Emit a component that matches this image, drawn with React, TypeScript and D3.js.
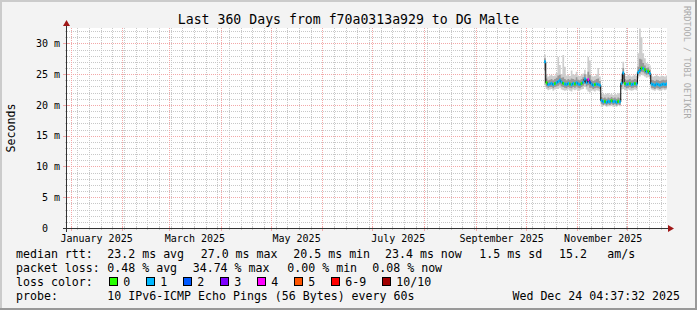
import React from 'react';
import * as d3 from 'd3';

const FONT = '"DejaVu Sans Mono", monospace';
const W = 697, H = 310;
const PL = 67, PR = 667, PT = 28, PB = 228;

// ---- time frame ----
const timeStart = new Date(Date.UTC(2024, 11, 29, 18));
const timeEnd = new Date(Date.UTC(2025, 11, 24, 18));
const firstSample = new Date(Date.UTC(2025, 9, 12));
const yMax = 32.5;

// ---- data (ms) ----
const medianRtt = [27.0,23.6,23.3,23.4,23.5,23.3,23.5,23.6,23.8,24.0, 23.7,23.5,23.4,23.3,23.5,23.4,23.3,23.5,23.4,23.6, 23.4,23.3,23.5,23.7,24.2,23.6,24.1,23.7,23.4,23.2, 23.3,23.4,23.3,23.2,20.7,20.5,20.6,20.4,20.6,20.5, 20.7,20.5,20.6,20.4,20.6,20.5,23.5,25.2,23.5,23.3, 23.4,23.5,23.3,23.4,23.5,23.4,25.3,25.6,26.0,25.9, 25.7,25.4,25.5,25.1,23.4,23.3,23.2,23.4,23.3,23.2, 23.3,23.4,23.3,23.4];
const smokeInnerLow = [25.6,23.0,22.8,22.9,22.9,22.7,22.9,23.0,23.1,23.3, 23.0,22.9,22.8,22.7,22.9,22.8,22.7,22.9,22.8,23.0, 22.8,22.7,22.9,23.1,23.4,23.0,23.2,22.8,22.8,22.6, 22.7,22.8,22.7,22.6,20.2,20.0,20.1,19.9,20.1,20.0, 20.2,20.0,20.1,19.9,20.1,20.0,22.9,24.2,22.9,22.7, 22.8,22.9,22.7,22.8,22.9,22.8,24.8,25.1,25.4,25.3, 25.1,24.9,25.0,24.6,22.8,22.7,22.6,22.8,22.7,22.6, 22.7,22.8,22.7,22.8];
const smokeInnerHigh = [27.6,24.3,24.0,24.1,24.2,24.0,24.2,24.4,24.8,24.9, 24.4,24.5,24.2,24.0,24.2,24.1,24.3,24.2,24.1,24.5, 24.1,24.0,24.2,24.5,25.0,24.3,25.4,24.9,24.1,23.9, 24.0,24.2,24.3,23.9,21.3,21.1,21.2,21.0,21.2,21.1, 21.3,21.1,21.2,21.0,21.2,21.1,24.2,26.0,24.2,24.0, 24.1,24.2,24.0,24.1,24.2,24.1,26.2,27.5,27.4,26.8, 26.4,26.0,26.1,25.7,24.1,24.0,23.9,24.1,24.0,23.9, 24.0,24.1,24.0,24.1];
const smokeMin = [23.2,22.6,22.4,22.5,22.6,22.3,22.5,22.6,22.6,22.8, 22.5,22.4,22.3,22.4,22.5,22.3,22.2,22.5,22.4,22.5, 22.3,22.4,22.5,22.6,22.9,22.5,22.2,22.0,22.4,22.3, 22.2,22.4,22.3,22.2,19.7,19.8,19.9,19.7,19.8,19.8, 19.9,19.7,19.8,19.7,19.9,19.8,22.5,22.6,22.4,22.3, 22.5,22.4,22.3,22.4,22.5,22.4,24.3,24.6,24.9,24.8, 24.6,24.4,24.5,24.2,22.5,22.4,22.3,22.5,22.4,22.3, 22.4,22.5,22.4,22.5];
const smokeMax = [28.2,25.0,24.6,24.8,24.9,24.7,24.8,25.2,27.8,26.5, 25.0,28.1,26.2,24.8,25.0,24.7,25.6,25.0,24.9,25.4, 24.8,24.7,24.9,25.1,25.7,25.0,27.8,27.2,24.8,24.6, 24.7,25.0,26.0,24.6,21.9,21.8,21.7,21.8,21.9,21.7, 21.8,21.6,21.8,21.7,21.9,21.8,24.9,27.0,24.8,24.7, 24.9,24.8,24.6,24.8,24.9,24.7,28.4,32.4,31.0,28.4, 27.6,26.8,26.7,26.4,24.8,24.6,24.7,24.9,24.7,24.6, 24.8,24.7,24.6,24.8];
const lossClass = [1,0,1,1,1,1,0,1,1,1, 1,0,1,1,1,0,1,1,0,1, 1,1,0,1,1,1,4,2,1,1, 0,1,1,1,1,1,0,1,1,1, 0,1,1,1,0,1,1,1,0,1, 1,0,1,1,0,1,1,1,0,1, 0,1,0,1,1,1,1,1,1,1, 1,1,1,1];

// ---- labels ----
const titleText = 'Last 360 Days from f70a0313a929 to DG Malte';
const yAxisTitle = 'Seconds';
const watermark = 'RRDTOOL / TOBI OETIKER';
const yTicks = [0, 5, 10, 15, 20, 25, 30];
const xLabelTexts = ['January 2025', 'March 2025', 'May 2025', 'July 2025', 'September 2025', 'November 2025'];
const xLabelMonths = [0, 2, 4, 6, 8, 10];
const lossLabels = ['0', '1', '2', '3', '4', '5', '6-9', '10/10'];
const lossColors = ['#26ff00', '#00b8ff', '#0059ff', '#7e00ff', '#ff00ff', '#ff5500', '#ff0000', '#a10000'];
const rttStatValues = ['23.2', '27.0', '20.5', '23.4'];
const rttStatNames = ['avg', 'max', 'min', 'now'];
const rttSd = '1.5';
const rttAmS = '15.2';
const lossStatValues = ['0.48', '34.74', '0.00', '0.08'];
const probeText = '10 IPv6-ICMP Echo Pings (56 Bytes) every 60s';
const dateText = 'Wed Dec 24 04:37:32 2025';

// ---- layout constants ----
const rttStatX = [107.3, 200.7, 293.3, 385];
const lossStatX = [107.3, 192.7, 287.3, 372.3];
const rowY = [258.3, 272, 286, 299.7];
const LF = 11.6;

export default function App() {
  const x = d3.scaleUtc().domain([timeStart, timeEnd]).range([PL, PR]);
  const y = d3.scaleLinear().domain([0, yMax]).range([PB, PT]);
  const n = medianRtt.length;
  const idx = d3.range(n + 1);
  const dt = (i: number) => d3.utcDay.offset(firstSample, i);
  const v = (arr: number[], i: number) => arr[Math.min(i, n - 1)];

  const band = (lo: number[], hi: number[]) =>
    d3.area<number>().curve(d3.curveStepAfter)
      .x(i => x(dt(i))).y0(i => y(v(lo, i))).y1(i => y(v(hi, i)))(idx) || '';
  const medLine = d3.line<number>().curve(d3.curveStepAfter)
    .x(i => x(dt(i))).y(i => y(v(medianRtt, i)))(idx) || '';

  const px = (a: number) => Math.round(a) + 0.5;
  const minorV = d3.utcSunday.range(timeStart, timeEnd);
  const majorV = d3.utcMonth.range(timeStart, timeEnd);
  const minorH = d3.range(1, Math.floor(yMax) + 1).filter(k => k % 5 !== 0);
  const GRID = '#c8c8c8';
  const MGRID = '#f3a8a8';

  let bx = 108.7;
  const lossItems = lossLabels.map((lab, i) => {
    const item = { bx, tx: bx + 14.6, lab, col: lossColors[i] };
    bx = bx + 14.6 + lab.length * 7 + 15.4;
    return item;
  });

  const T = (props: any) => <text fontFamily={FONT} fill="#000" style={{ whiteSpace: 'pre' }} {...props} />;

  return (
    <svg width={W} height={H} style={{ position: 'absolute', left: 0, top: 0, display: 'block' }}>
      <defs>
        <clipPath id="plotclip"><rect x={PL} y={PT} width={PR - PL} height={PB - PT} /></clipPath>
      </defs>
      <rect x={0} y={0} width={W} height={H} fill="#f3f3f3" />
      <rect x={0} y={0} width={W} height={2} fill="#cbcbcb" />
      <rect x={0} y={0} width={2} height={H} fill="#cbcbcb" />
      <rect x={0} y={H - 2} width={W} height={2} fill="#999" />
      <rect x={W - 2} y={0} width={2} height={H} fill="#999" />

      <rect x={PL} y={PT} width={PR - PL} height={PB - PT} fill="#fff" />

      {/* grid */}
      <g strokeWidth={1} strokeDasharray="1,1" shapeRendering="crispEdges">
        {minorV.map((d, i) => (
          <line key={'mv' + i} x1={px(x(d))} x2={px(x(d))} y1={PT} y2={PB} stroke={GRID} />
        ))}
        {minorH.map(k => (
          <line key={'mh' + k} x1={PL} x2={PR} y1={px(y(k))} y2={px(y(k))} stroke={GRID} />
        ))}
        {majorV.map((d, i) => (
          <line key={'Mv' + i} x1={px(x(d))} x2={px(x(d))} y1={PT} y2={PB} stroke={MGRID} />
        ))}
        {yTicks.filter(t => t > 0).map(t => (
          <line key={'Mh' + t} x1={PL} x2={PR} y1={px(y(t))} y2={px(y(t))} stroke={MGRID} />
        ))}
      </g>

      {/* smoke + median */}
      <g clipPath="url(#plotclip)">
        <path d={band(smokeMin, smokeMax)} fill="#cdcdcd" />
        <path d={band(smokeInnerLow, smokeInnerHigh)} fill="#989898" />
        <path d={medLine} fill="none" stroke="#000" strokeWidth={1} />
        {medianRtt.map((m, i) => (
          <line key={'md' + i} x1={x(dt(i))} x2={x(dt(i + 1))} y1={y(m)} y2={y(m)}
            stroke={lossColors[lossClass[i]]} strokeWidth={3} />
        ))}
      </g>

      {/* ticks */}
      <g shapeRendering="crispEdges">
        {minorV.map((d, i) => (
          <line key={'mt' + i} x1={px(x(d))} x2={px(x(d))} y1={PB - 1} y2={PB + 2} stroke={GRID} />
        ))}
        {majorV.map((d, i) => (
          <line key={'Mt' + i} x1={px(x(d))} x2={px(x(d))} y1={PB - 2} y2={PB + 3} stroke={MGRID} />
        ))}
        {yTicks.map(t => (
          <line key={'yt' + t} x1={PL - 4} x2={PL + 2} y1={px(y(t))} y2={px(y(t))} stroke={t === 0 ? '#333' : MGRID} />
        ))}
        {minorH.map(k => (
          <line key={'ymt' + k} x1={PL - 2} x2={PL + 1} y1={px(y(k))} y2={px(y(k))} stroke={GRID} />
        ))}
        <line x1={PL - 4} x2={PR + 3} y1={PB + 0.5} y2={PB + 0.5} stroke="#333" />
        <line x1={PL - 0.5} x2={PL - 0.5} y1={PB + 4} y2={PT - 3} stroke="#333" />
      </g>
      <path d={`M${PR + 1},${PB - 3} L${PR + 7},${PB + 0.5} L${PR + 1},${PB + 4} Z`} fill="#a01818" />
      <path d={`M${PL - 4},${PT - 2} L${PL - 0.5},${PT - 8} L${PL + 3},${PT - 2} Z`} fill="#a01818" />

      {/* y labels */}
      {yTicks.map(t => (
        <g key={'yl' + t}>
          <T x={48} y={y(t) + 3.6} fontSize={10} textAnchor="end">{String(t)}</T>
          {t > 0 && <T x={54} y={y(t) + 3.6} fontSize={10}>m</T>}
        </g>
      ))}
      {/* x labels */}
      {xLabelTexts.map((lab, i) => (
        <T key={'xl' + i} x={x(d3.utcHour.offset(new Date(Date.UTC(2025, xLabelMonths[i], 1)), 372))}
          y={241.6} fontSize={10} textAnchor="middle">{lab}</T>
      ))}

      {/* title */}
      <T x={348.5} y={24} fontSize={13.2} textAnchor="middle">{titleText}</T>
      <T transform="translate(14.5,128) rotate(-90)" fontSize={LF} textAnchor="middle">{yAxisTitle}</T>
      <T transform="translate(684,6) rotate(90)" fontSize={8.5} fill="#aaa">{watermark}</T>

      {/* legend */}
      <T x={16} y={rowY[0]} fontSize={LF}>median rtt:</T>
      {rttStatValues.map((val, i) => (
        <T key={'rs' + i} x={rttStatX[i]} y={rowY[0]} fontSize={LF}>{`${val} ms ${rttStatNames[i]}`}</T>
      ))}
      <T x={479.3} y={rowY[0]} fontSize={LF}>{`${rttSd} ms sd`}</T>
      <T x={559} y={rowY[0]} fontSize={LF}>{rttAmS}</T>
      <T x={607.3} y={rowY[0]} fontSize={LF}>am/s</T>

      <T x={16} y={rowY[1]} fontSize={LF}>packet loss:</T>
      {lossStatValues.map((val, i) => (
        <T key={'ls' + i} x={lossStatX[i]} y={rowY[1]} fontSize={LF}>{`${val} % ${rttStatNames[i]}`}</T>
      ))}

      <T x={16} y={rowY[2]} fontSize={LF}>loss color:</T>
      {lossItems.map((it, i) => (
        <g key={'li' + i}>
          <rect x={Math.round(it.bx) + 0.5} y={277.5} width={8} height={8} fill={it.col} stroke="#000" strokeWidth={1} />
          <T x={it.tx} y={rowY[2]} fontSize={LF}>{it.lab}</T>
        </g>
      ))}

      <T x={16} y={rowY[3]} fontSize={LF}>probe:</T>
      <T x={107.3} y={rowY[3]} fontSize={LF}>{probeText}</T>
      <T x={680} y={rowY[3]} fontSize={LF} textAnchor="end">{dateText}</T>
    </svg>
  );
}
